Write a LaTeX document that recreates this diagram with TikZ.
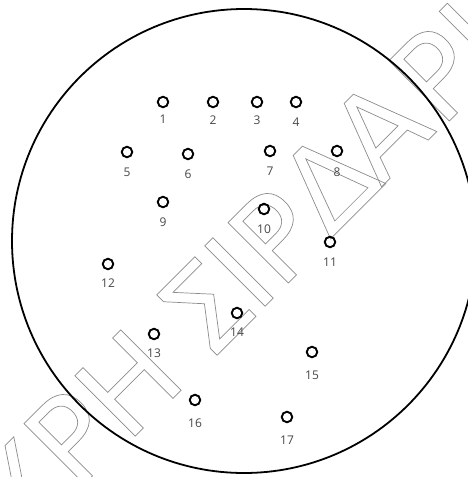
\documentclass[tikz,border=0pt]{standalone}
\usepackage{fontspec}
\newfontfamily\wmfont{DejaVu Sans}
\newfontfamily\lblfont{Open Sans}
\newcommand\olon{\special{pdf:literal direct 1 Tr 0.7 w}}
\newcommand\oloff{\special{pdf:literal direct 0 Tr}}
\tikzset{
  hole/.style={circle, draw=black, line width=1.9pt, minimum size=10.5pt, inner sep=0pt},
  num/.style={font=\lblfont\fontsize{12}{12}\selectfont, text=black!72, inner sep=0pt},
  wm/.style={font=\wmfont\fontsize{117}{117}\selectfont, text=black!45, inner sep=0pt, rotate=45},
}
\newcommand\wml[1]{\olon#1\oloff}
\begin{document}
\begin{tikzpicture}[x=1pt,y=-1pt]
\useasboundingbox (0,0) rectangle (468,477);
\clip (0,0) rectangle (468,477);
\fill[white] (0,0) rectangle (468,477);
% watermark
\node[wm] (w1) at (19.5,491.5) {\wml{Χ}};
\node[wm] (w2) at (71,437) {\wml{Ρ}};
\node[wm] (w3) at (128,383) {\wml{Η}};
\node[wm] (w4) at (205,307) {\wml{Σ}};
\node[wm] (w5) at (239,272) {\wml{Ι}};
\node[wm] (w6) at (275,236) {\wml{Ρ}};
\node[wm] (w7) at (328,181) {\wml{Δ}};
\node[wm] (w8) at (379,129) {\wml{Α}};
\node[wm] (w9) at (436,74) {\wml{Ρ}};
\node[wm] (w10) at (473.5,37.5) {\wml{Ι}};
% plate
\node[circle, draw=black, line width=1.8pt, minimum size=464pt, inner sep=0pt] (plate) at (244,241) {};
% holes
\foreach \i/\x/\y/\ly in {1/163/102/119, 2/213/102/120, 3/257/102/120, 4/296/102/122,
  5/127/152/172, 6/188/154/174, 7/270/151/171, 8/337/151/172,
  9/163/202/222, 10/264/209/229, 11/330/242/262, 12/108/264/283,
  13/154/334/353, 14/237/313/332, 15/312/352/375, 16/195/400/423, 17/287/417/440}{
  \node[hole] (c\i) at (\x,\y) {};
  \node[num] (l\i) at (\x,\ly) {\i};
}
\end{tikzpicture}
\end{document}
